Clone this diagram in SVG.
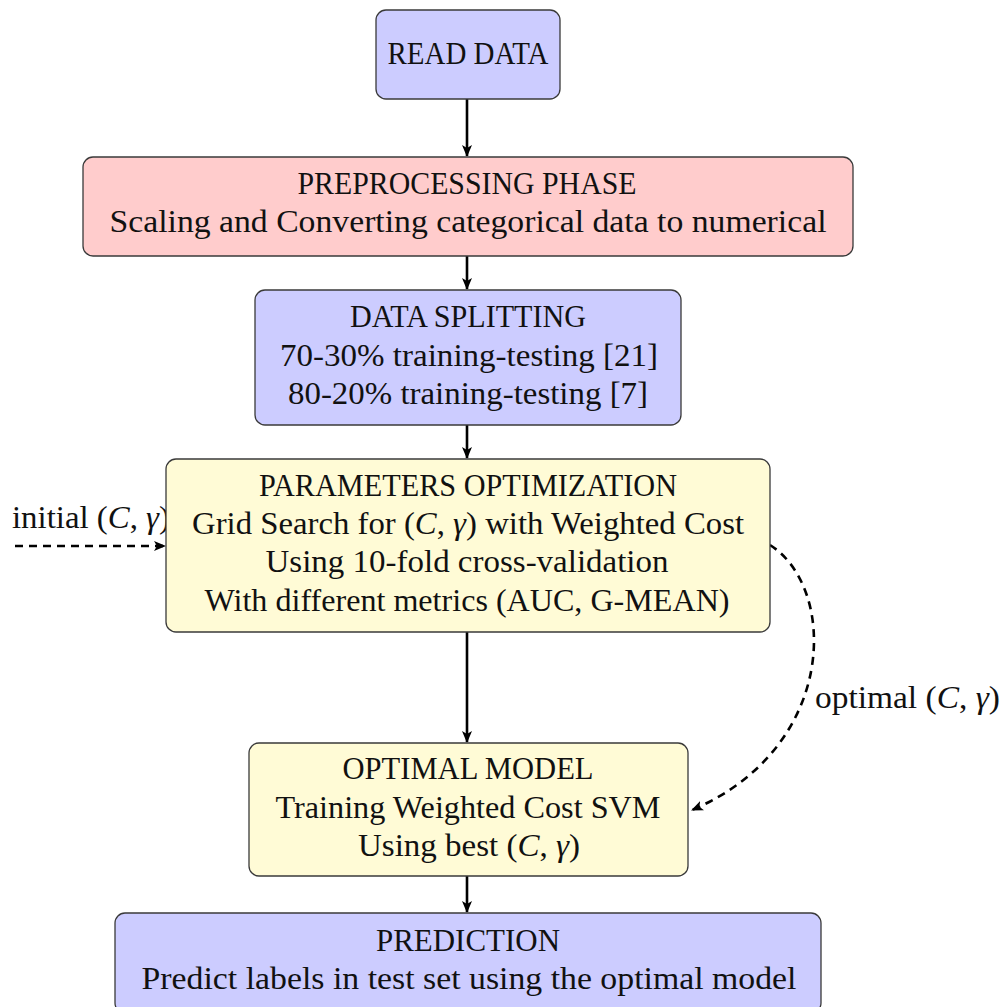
<svg xmlns="http://www.w3.org/2000/svg" width="1003" height="1007" viewBox="0 0 1003 1007">
  <style>
    .box { stroke: #3a3a3a; stroke-width: 1.3; }
    .blue { fill: #ccccff; }
    .red { fill: #ffcccc; }
    .yellow { fill: #fffbd6; }
    text { font-family: "Liberation Serif", "DejaVu Serif", serif; fill: #111; text-anchor: middle; }
    .cap { font-size: 31px; }
    .body { font-size: 32px; }
    .lbl { font-size: 31px; text-anchor: start; }
    .m { font-style: italic; }
    .flow { stroke: #000; stroke-width: 2.6; fill: none; }
    .dash { stroke: #000; stroke-width: 2.6; fill: none; stroke-dasharray: 8 6; }
  </style>
  <defs>
    <marker id="head" viewBox="0 0 12 10" refX="11" refY="5" markerWidth="12" markerHeight="10" markerUnits="userSpaceOnUse" orient="auto">
      <path d="M0,0 L12,5 L0,10 L3,5 Z" fill="#000"/>
    </marker>
  </defs>

  <rect width="1003" height="1007" fill="#fff"/>

  <!-- connectors -->
  <g id="connectors">
    <line class="flow" x1="467" y1="99" x2="467" y2="156" marker-end="url(#head)"/>
    <line class="flow" x1="467" y1="256" x2="467" y2="289" marker-end="url(#head)"/>
    <line class="flow" x1="467" y1="425" x2="467" y2="458" marker-end="url(#head)"/>
    <line class="flow" x1="467" y1="632" x2="467" y2="742" marker-end="url(#head)"/>
    <line class="flow" x1="467" y1="876" x2="467" y2="912" marker-end="url(#head)"/>
    <line class="dash" x1="15" y1="546" x2="165" y2="546" marker-end="url(#head)"/>
    <path class="dash" d="M770,545 C838,588 838,748 692,810" marker-end="url(#head)"/>
    <text class="lbl" x="12" y="528" textLength="158" lengthAdjust="spacingAndGlyphs">initial (<tspan class="m">C</tspan>, <tspan class="m">γ</tspan>)</text>
    <text class="lbl" x="815" y="708" textLength="185" lengthAdjust="spacingAndGlyphs">optimal (<tspan class="m">C</tspan>, <tspan class="m">γ</tspan>)</text>
  </g>

  <g id="read-data">
    <rect class="box blue" x="376" y="10" width="184" height="89" rx="10"/>
    <text class="cap" x="468" y="64" textLength="161" lengthAdjust="spacingAndGlyphs">READ DATA</text>
  </g>

  <g id="preprocessing">
    <rect class="box red" x="83" y="157" width="770" height="99" rx="10"/>
    <text class="cap" x="467" y="194" textLength="339" lengthAdjust="spacingAndGlyphs">PREPROCESSING PHASE</text>
    <text class="body" x="468" y="232" textLength="717" lengthAdjust="spacingAndGlyphs">Scaling and Converting categorical data to numerical</text>
  </g>

  <g id="data-splitting">
    <rect class="box blue" x="255" y="290" width="426" height="135" rx="10"/>
    <text class="cap" x="468" y="327" textLength="236" lengthAdjust="spacingAndGlyphs">DATA SPLITTING</text>
    <text class="body" x="469" y="366" textLength="378" lengthAdjust="spacingAndGlyphs">70-30% training-testing [21]</text>
    <text class="body" x="468" y="404" textLength="360" lengthAdjust="spacingAndGlyphs">80-20% training-testing [7]</text>
  </g>

  <g id="parameters-optimization">
    <rect class="box yellow" x="166" y="459" width="604" height="173" rx="10"/>
    <text class="cap" x="468" y="496" textLength="418" lengthAdjust="spacingAndGlyphs">PARAMETERS OPTIMIZATION</text>
    <text class="body" x="468" y="534" textLength="552" lengthAdjust="spacingAndGlyphs">Grid Search for (<tspan class="m">C</tspan>, <tspan class="m">γ</tspan>) with Weighted Cost</text>
    <text class="body" x="467" y="572" textLength="403" lengthAdjust="spacingAndGlyphs">Using 10-fold cross-validation</text>
    <text class="body" x="467" y="611" textLength="525" lengthAdjust="spacingAndGlyphs">With different metrics (AUC, G-MEAN)</text>
  </g>

  <g id="optimal-model">
    <rect class="box yellow" x="249" y="743" width="439" height="133" rx="10"/>
    <text class="cap" x="468" y="779" textLength="251" lengthAdjust="spacingAndGlyphs">OPTIMAL MODEL</text>
    <text class="body" x="468" y="818" textLength="385" lengthAdjust="spacingAndGlyphs">Training Weighted Cost SVM</text>
    <text class="body" x="469" y="856" textLength="222" lengthAdjust="spacingAndGlyphs">Using best (<tspan class="m">C</tspan>, <tspan class="m">γ</tspan>)</text>
  </g>

  <g id="prediction">
    <rect class="box blue" x="115" y="913" width="706" height="100" rx="10"/>
    <text class="cap" x="468" y="951" textLength="184" lengthAdjust="spacingAndGlyphs">PREDICTION</text>
    <text class="body" x="469" y="989" textLength="655" lengthAdjust="spacingAndGlyphs">Predict labels in test set using the optimal model</text>
  </g>
</svg>
